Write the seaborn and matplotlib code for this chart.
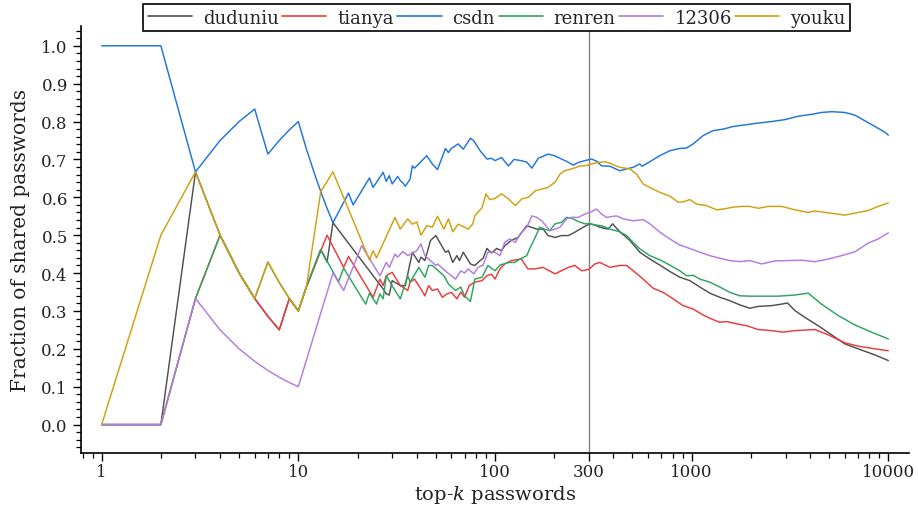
import matplotlib
matplotlib.use("Agg")
import matplotlib.pyplot as plt
import pandas as pd
import seaborn as sns
from matplotlib.ticker import (FixedLocator, FixedFormatter, MultipleLocator,
                               FormatStrFormatter, LogLocator, NullFormatter)

# ---- data: fraction of shared passwords among the top-k of each site ----
sites = ["duduniu", "tianya", "csdn", "renren", "12306", "youku"]
colors = ["#505050", "#ee3a3a", "#1f74e0", "#2ca55e", "#b27be3", "#d2a00e"]

duduniu_k = [1, 2, 3, 4, 5, 6, 7, 8, 9, 10, 11, 13, 14, 15, 27, 28, 29, 30, 33, 35,
             38, 41, 42, 44, 47, 50, 56, 58, 61, 64, 66, 69, 75, 79, 84, 87, 91, 96,
             102, 108, 112, 121, 131, 145, 153, 163, 176, 186, 202, 218, 236, 255,
             281, 304, 322, 341, 376, 396, 431, 485, 545, 613, 689, 775, 871, 979,
             1101, 1237, 1391, 1564, 1758, 1977, 2178, 2548, 2864, 3072, 3347, 3764,
             4397, 5144, 6009, 7023, 8541, 10000]
duduniu_v = [0, 0, 0.667, 0.5, 0.4, 0.333, 0.286, 0.25, 0.333, 0.3, 0.364, 0.462,
             0.429, 0.533, 0.358, 0.345, 0.342, 0.38, 0.367, 0.367, 0.455, 0.428,
             0.442, 0.433, 0.486, 0.499, 0.455, 0.459, 0.428, 0.446, 0.433, 0.455,
             0.424, 0.42, 0.433, 0.439, 0.465, 0.453, 0.465, 0.459, 0.472, 0.486,
             0.494, 0.525, 0.521, 0.516, 0.516, 0.499, 0.494, 0.499, 0.499, 0.508,
             0.521, 0.53, 0.527, 0.521, 0.516, 0.53, 0.509, 0.486, 0.455, 0.437,
             0.421, 0.404, 0.389, 0.38, 0.363, 0.347, 0.336, 0.327, 0.316, 0.307,
             0.312, 0.314, 0.318, 0.321, 0.301, 0.283, 0.261, 0.237, 0.213, 0.2,
             0.184, 0.169]

tianya_k = [1, 2, 3, 4, 5, 6, 7, 8, 9, 10, 11, 14, 17, 18, 24, 26, 27, 28, 30, 33,
            36, 37, 39, 42, 44, 46, 48, 51, 54, 57, 60, 64, 67, 70, 74, 79, 86, 91,
            96, 100, 106, 112, 121, 136, 147, 160, 175, 202, 236, 255, 276, 300, 322,
            341, 384, 431, 467, 504, 567, 637, 716, 805, 905, 1018, 1144, 1286, 1391,
            1505, 1692, 1901, 2178, 2548, 2918, 3347, 4230, 4943, 6009, 7023, 8541,
            10000]
tianya_v = [0, 0, 0.333, 0.5, 0.4, 0.333, 0.286, 0.25, 0.333, 0.3, 0.364, 0.5, 0.415,
            0.444, 0.336, 0.384, 0.367, 0.393, 0.402, 0.367, 0.354, 0.376, 0.384,
            0.358, 0.34, 0.367, 0.354, 0.358, 0.336, 0.345, 0.349, 0.332, 0.35, 0.336,
            0.367, 0.376, 0.38, 0.393, 0.397, 0.384, 0.411, 0.424, 0.433, 0.437,
            0.411, 0.411, 0.415, 0.398, 0.415, 0.42, 0.406, 0.41, 0.424, 0.428,
            0.415, 0.42, 0.42, 0.406, 0.384, 0.36, 0.349, 0.332, 0.314, 0.305, 0.289,
            0.277, 0.27, 0.272, 0.266, 0.261, 0.251, 0.248, 0.244, 0.248, 0.251,
            0.237, 0.216, 0.207, 0.2, 0.195]

csdn_k = [1, 2, 3, 4, 5, 6, 7, 8, 9, 10, 11, 12, 13, 14, 15, 18, 19, 23, 24, 27, 28,
          29, 30, 32, 33, 34, 35, 37, 38, 39, 45, 48, 51, 56, 58, 60, 65, 69, 75, 78,
          84, 91, 96, 100, 108, 117, 125, 135, 145, 154, 166, 186, 200, 220, 231, 250,
          265, 287, 310, 330, 348, 384, 431, 467, 504, 545, 560, 613, 689, 775, 871,
          940, 1018, 1144, 1286, 1446, 1626, 1800, 1977, 2178, 2548, 2977, 3478, 4071,
          4575, 5144, 6009, 6756, 7596, 8541, 9598, 10000]
csdn_v = [1, 1, 0.667, 0.75, 0.8, 0.833, 0.714, 0.75, 0.778, 0.8, 0.727, 0.667, 0.615,
          0.571, 0.533, 0.611, 0.58, 0.651, 0.626, 0.666, 0.642, 0.657, 0.635, 0.655,
          0.644, 0.638, 0.629, 0.648, 0.683, 0.677, 0.71, 0.688, 0.673, 0.729, 0.718,
          0.729, 0.741, 0.727, 0.756, 0.749, 0.723, 0.701, 0.703, 0.697, 0.705, 0.683,
          0.7, 0.697, 0.693, 0.677, 0.703, 0.714, 0.71, 0.7, 0.695, 0.685, 0.692,
          0.697, 0.701, 0.695, 0.683, 0.682, 0.67, 0.675, 0.679, 0.688, 0.682, 0.694,
          0.71, 0.723, 0.729, 0.73, 0.741, 0.763, 0.776, 0.78, 0.787, 0.79, 0.793,
          0.796, 0.8, 0.805, 0.814, 0.819, 0.824, 0.826, 0.824, 0.817, 0.802, 0.787,
          0.772, 0.764]

renren_k = [1, 2, 3, 4, 5, 6, 7, 8, 9, 10, 11, 13, 16, 17, 22, 23, 25, 26, 27, 28, 31,
            33, 36, 37, 41, 44, 46, 48, 55, 58, 63, 67, 70, 75, 79, 86, 92, 100, 106,
            117, 126, 134, 145, 150, 160, 169, 178, 190, 202, 218, 231, 245, 265, 287,
            304, 322, 348, 384, 431, 467, 504, 545, 613, 689, 775, 871, 942, 1018,
            1101, 1237, 1391, 1564, 1758, 1977, 2754, 3347, 3912, 4575, 5556, 6756,
            8216, 10000]
renren_v = [0, 0, 0.333, 0.5, 0.4, 0.333, 0.429, 0.375, 0.333, 0.3, 0.364, 0.462,
            0.377, 0.413, 0.318, 0.347, 0.318, 0.345, 0.332, 0.393, 0.354, 0.332,
            0.393, 0.376, 0.415, 0.389, 0.42, 0.42, 0.393, 0.371, 0.354, 0.363, 0.34,
            0.325, 0.384, 0.389, 0.42, 0.406, 0.421, 0.428, 0.428, 0.437, 0.446,
            0.464, 0.494, 0.521, 0.516, 0.512, 0.53, 0.534, 0.547, 0.545, 0.536,
            0.53, 0.53, 0.527, 0.525, 0.516, 0.509, 0.499, 0.481, 0.464, 0.446,
            0.435, 0.421, 0.406, 0.393, 0.394, 0.384, 0.376, 0.363, 0.349, 0.34,
            0.339, 0.339, 0.342, 0.347, 0.318, 0.288, 0.263, 0.244, 0.226]

s12306_k = [1, 2, 3, 4, 5, 6, 7, 8, 9, 10, 15, 17, 21, 26, 28, 29, 31, 32, 34, 36, 40,
            42, 44, 46, 50, 51, 57, 63, 67, 70, 73, 78, 82, 87, 92, 100, 106, 112, 119,
            127, 134, 145, 154, 163, 173, 190, 202, 214, 231, 245, 265, 287, 310, 328,
            348, 369, 415, 449, 504, 567, 613, 689, 775, 871, 979, 1101, 1237, 1391,
            1564, 1758, 1977, 2267, 2649, 3094, 3622, 4230, 4943, 5783, 6756, 7896,
            8875, 10000]
s12306_v = [0, 0, 0.333, 0.25, 0.2, 0.167, 0.143, 0.125, 0.111, 0.1, 0.4, 0.354,
            0.472, 0.393, 0.428, 0.415, 0.45, 0.442, 0.457, 0.446, 0.459, 0.477,
            0.446, 0.437, 0.42, 0.424, 0.402, 0.384, 0.406, 0.4, 0.411, 0.398, 0.415,
            0.421, 0.455, 0.455, 0.446, 0.481, 0.49, 0.481, 0.503, 0.521, 0.551,
            0.547, 0.538, 0.512, 0.516, 0.521, 0.543, 0.547, 0.547, 0.556, 0.562,
            0.569, 0.556, 0.547, 0.551, 0.543, 0.538, 0.541, 0.53, 0.508, 0.49, 0.474,
            0.465, 0.455, 0.446, 0.439, 0.433, 0.43, 0.433, 0.424, 0.432, 0.433,
            0.434, 0.43, 0.437, 0.446, 0.456, 0.479, 0.49, 0.506]

youku_k = [1, 2, 3, 4, 5, 6, 7, 8, 9, 10, 11, 13, 15, 23, 24, 25, 31, 33, 36, 38, 40,
           42, 45, 48, 51, 55, 58, 61, 65, 70, 73, 77, 79, 86, 90, 94, 100, 108, 117,
           127, 137, 148, 160, 173, 186, 202, 214, 226, 245, 259, 270, 286, 310, 334,
           362, 384, 431, 485, 525, 567, 613, 689, 775, 854, 905, 979, 1059, 1191,
           1338, 1446, 1626, 1800, 1977, 2178, 2449, 2864, 3347, 3912, 4230, 4943,
           6009, 7023, 7896, 8875, 10000]
youku_v = [0, 0.5, 0.667, 0.5, 0.4, 0.333, 0.429, 0.375, 0.333, 0.3, 0.364, 0.615,
           0.667, 0.435, 0.459, 0.44, 0.547, 0.516, 0.543, 0.529, 0.535, 0.5, 0.525,
           0.521, 0.55, 0.516, 0.543, 0.509, 0.529, 0.521, 0.516, 0.529, 0.551, 0.573,
           0.609, 0.594, 0.597, 0.609, 0.596, 0.578, 0.596, 0.6, 0.617, 0.622, 0.626,
           0.64, 0.661, 0.67, 0.675, 0.679, 0.683, 0.683, 0.688, 0.692, 0.694, 0.69,
           0.679, 0.675, 0.661, 0.635, 0.626, 0.613, 0.603, 0.587, 0.588, 0.594,
           0.582, 0.578, 0.567, 0.569, 0.574, 0.576, 0.576, 0.571, 0.576, 0.576,
           0.567, 0.56, 0.564, 0.559, 0.553, 0.56, 0.565, 0.576, 0.585]

xtick_values = [1, 10, 100, 300, 1000, 10000]
xtick_labels = ["1", "10", "100", "300", "1000", "10000"]
marker_k = 300

series = [("duduniu", duduniu_k, duduniu_v), ("tianya", tianya_k, tianya_v),
          ("csdn", csdn_k, csdn_v), ("renren", renren_k, renren_v),
          ("12306", s12306_k, s12306_v), ("youku", youku_k, youku_v)]
df = pd.concat([pd.DataFrame({"k": k, "frac": v, "site": name})
                for name, k, v in series], ignore_index=True)

# ---- style ----
sns.set_style("ticks")
plt.rcParams["font.family"] = ["DejaVu Serif"]
plt.rcParams["mathtext.fontset"] = "dejavuserif"

W, H = 918, 510
fig = plt.figure(figsize=(W / 100, H / 100), dpi=100)
ax = fig.add_axes([81 / W, 1 - 454 / H, (909 - 81) / W, (454 - 26.7) / H])

sns.lineplot(data=df, x="k", y="frac", hue="site", hue_order=sites,
             palette=colors, estimator=None, linewidth=1.05, ax=ax)

ax.axvline(marker_k, color="#808080", lw=1.0, zorder=1)

ax.set_xscale("log")
ax.set_xlim(10 ** -0.105, 10 ** 4.105)
ax.set_ylim(-0.075, 1.053)

ax.xaxis.set_major_locator(FixedLocator(xtick_values))
ax.xaxis.set_major_formatter(FixedFormatter(xtick_labels))
ax.xaxis.set_minor_locator(LogLocator(base=10, subs=range(2, 10), numticks=20))
ax.xaxis.set_minor_formatter(NullFormatter())
ax.yaxis.set_major_locator(MultipleLocator(0.1))
ax.yaxis.set_minor_locator(MultipleLocator(0.02))
ax.yaxis.set_major_formatter(FormatStrFormatter("%.1f"))

for side in ("top", "right"):
    ax.spines[side].set_visible(False)
for side in ("left", "bottom"):
    ax.spines[side].set_color("black")
    ax.spines[side].set_linewidth(1.2)
ax.tick_params(which="major", direction="out", length=6, width=1.0,
               color="black", labelsize=12, labelcolor="#222222")
ax.tick_params(axis="x", which="major", pad=1.5)
ax.tick_params(which="minor", direction="out", length=3.5, width=0.9, color="black")

ax.set_xlabel("top-$k$ passwords", fontsize=14, color="#222222", labelpad=2)
ax.set_ylabel("Fraction of shared passwords", fontsize=14.5, color="#222222",
              labelpad=8)

handles, labels = ax.get_legend_handles_labels()
ax.get_legend().remove()
leg = fig.legend(handles, labels, loc="upper center", bbox_to_anchor=(0.541, 0.99),
                 ncol=6, frameon=True, fancybox=False, edgecolor="black",
                 framealpha=1, fontsize=13, handlelength=2.45, handletextpad=0.6,
                 columnspacing=0.2, borderpad=0.25, borderaxespad=0)
leg.get_frame().set_linewidth(1.2)
for line in leg.get_lines():
    line.set_linewidth(1.2)

fig.savefig("out.png", dpi=100)
